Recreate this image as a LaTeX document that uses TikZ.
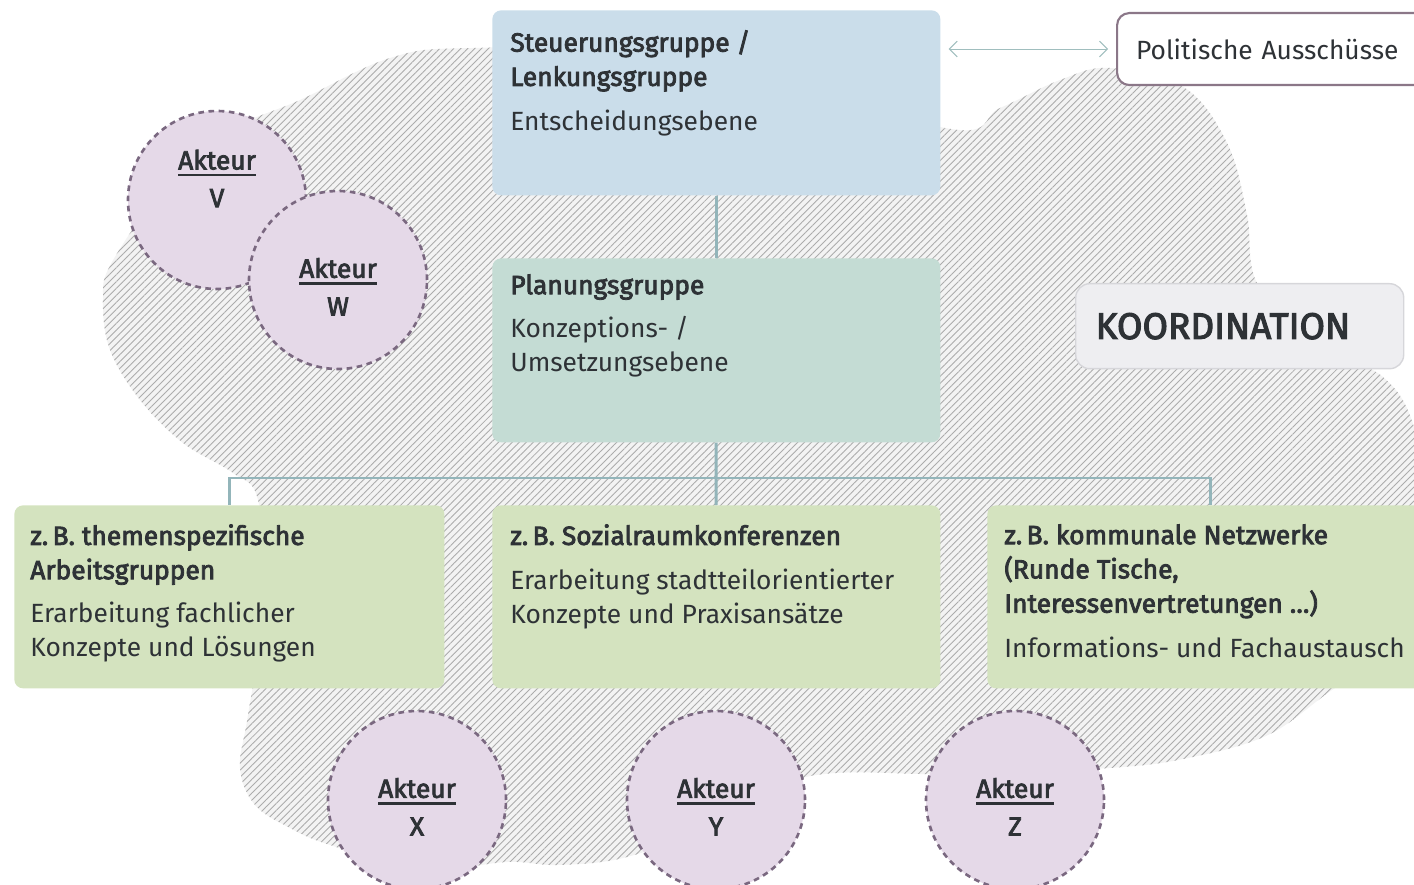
\documentclass[tikz,border=0pt]{standalone}
\usepackage{fontspec}
\setmainfont{Fira Sans}[BoldFont={Fira Sans},BoldFeatures={FakeBold=3}]
\usetikzlibrary{arrows.meta,patterns.meta,positioning}

\definecolor{steerblue}{RGB}{202,221,234}
\definecolor{plangreen}{RGB}{196,220,212}
\definecolor{workgreen}{RGB}{212,227,191}
\definecolor{actorfill}{RGB}{229,217,232}
\definecolor{actorline}{RGB}{122,104,128}
\definecolor{linkteal}{RGB}{147,181,186}
\definecolor{arrowteal}{RGB}{160,190,190}
\definecolor{textdark}{RGB}{46,50,54}
\definecolor{coordfill}{RGB}{238,238,241}
\definecolor{coordline}{RGB}{214,214,218}
\definecolor{politline}{RGB}{139,119,136}
\definecolor{blobfill}{RGB}{243,243,243}
\definecolor{blobline}{RGB}{172,172,172}

\newlength\px
\setlength\px{0.2mm}

\newcommand{\akteur}[3]{\rule{0pt}{#1}\setbox0=\hbox{\bfseries Akteur}\rlap{\rule[-4pt]{\wd0}{1.6pt}}\box0\\\textbf{#3}\rule[-#2]{0pt}{#2}}

\begin{document}
\begin{tikzpicture}[x=0.2mm, y=-0.2mm,
	grp/.style={rectangle, rounded corners=5pt, anchor=north west, inner sep=0pt},
	grptext/.style={anchor=north west, inner sep=0pt, align=left, text=textdark},
	link/.style={draw=linkteal, line width=1.7pt},
	dblarrow/.style={{Straight Barb[length=4.5pt,width=9pt]}-{Straight Barb[length=4.5pt,width=9pt]}, draw=arrowteal, line width=0.6pt},
	actor/.style={circle, draw=actorline, fill=actorfill, line width=1.5pt, dash pattern=on 3.2pt off 2.6pt, minimum size=178*\px, inner sep=0pt, align=center, text=textdark, font=\fontsize{15}{21.5}\selectfont},
	every node/.append style={font=\fontsize{15}{19.5}\selectfont}]
		\useasboundingbox (0,0) rectangle (1414,885);
		\clip (0,0) rectangle (1414,885);

		\path [fill=blobfill, postaction={pattern={Lines[angle=45,distance=2.8pt,line width=0.5pt]}, pattern color=blobline}]
			plot [smooth cycle, tension=0.6] coordinates {(300,100) (390,58) (473,48) (700,52) (945,128) (1000,108) (1060,80) (1110,68) (1185,88) (1228,145) (1247,215) (1258,285) (1320,345) (1383,377) (1414,427) (1432,530) (1400,645) (1332,690) (1268,735) (1188,758) (1109,768) (950,774) (806,777) (700,830) (623,858) (557,865) (507,862) (420,870) (330,845) (290,828) (255,805) (240,768) (248,715) (265,600) (258,500) (233,473) (183,443) (140,400) (110,350) (103,300) (112,262) (170,180) (230,130)};

		\draw (492,10) node [grp, fill=steerblue, minimum width=448*\px, minimum height=185*\px] (steer) {};
		\draw (492,258) node [grp, fill=plangreen, minimum width=448*\px, minimum height=184*\px] (plan) {};
		\draw (14,505) node [grp, fill=workgreen, minimum width=430*\px, minimum height=183*\px] (ag) {};
		\draw (492,505) node [grp, fill=workgreen, minimum width=448*\px, minimum height=183*\px] (sr) {};
		\draw (987,505) node [grp, fill=workgreen, minimum width=446*\px, minimum height=183*\px] (nw) {};

		\coordinate (fork) at (716,478);
		\draw [link] (steer) -- (plan);
		\draw [link] (plan) -- (fork);
		\draw [link] (fork) -| (ag);
		\draw [link] (fork) -- (sr);
		\draw [link] (fork) -| (nw);

		\draw (510,30) node [grptext] (steertext) {\textbf{Steuerungsgruppe /}\\\textbf{Lenkungsgruppe}\\[6pt]Entscheidungsebene};
		\draw (510,274) node [grptext] (plantext) {\textbf{Planungsgruppe}\\[5pt]Konzeptions- /\\Umsetzungsebene};
		\draw (30,524) node [grptext] (agtext) {\textbf{z.\,B. themenspezifische}\\\textbf{Arbeitsgruppen}\\[5pt]Erarbeitung fachlicher\\Konzepte und Lösungen};
		\draw (510,524) node [grptext] (srtext) {\textbf{z.\,B. Sozialraumkonferenzen}\\[6pt]Erarbeitung stadtteilorientierter\\Konzepte und Praxisansätze};
		\draw (1004,524) node [grptext] (nwtext) {\textbf{z.\,B. kommunale Netzwerke}\\\textbf{(Runde Tische,}\\\textbf{Interessenvertretungen …)}\\[6pt]Informations- und Fachaustausch};

		\draw (1116,12) node [grp, fill=white, draw=politline, line width=1.2pt, rounded corners=7pt, minimum width=330*\px, minimum height=72*\px, text width=292*\px, inner xsep=19*\px, align=left, text=textdark] (polit) {Politische Ausschüsse};
		\draw [dblarrow, shorten <=4.5pt, shorten >=4.5pt] (steer.east |- polit.west) -- (polit.west);

		\draw (1075,283) node [grp, fill=coordfill, draw=coordline, line width=0.8pt, rounded corners=8pt, minimum width=328*\px, minimum height=85*\px, text width=288*\px, inner xsep=20*\px, align=left, text=textdark, font=\fontsize{21}{25}\selectfont\bfseries] (koord) {KOORDINATION};

		\draw (217,200) node [actor] (actv) {\akteur{11pt}{24.5pt}{V}};
		\draw (338,280) node [actor] (actw) {\akteur{19pt}{0pt}{W}};
		\draw (417,800) node [actor] (actx) {\akteur{19pt}{0pt}{X}};
		\draw (716,800) node [actor] (acty) {\akteur{19pt}{0pt}{Y}};
		\draw (1015,800) node [actor] (actz) {\akteur{19pt}{0pt}{Z}};
	\end{tikzpicture}
\end{document}
